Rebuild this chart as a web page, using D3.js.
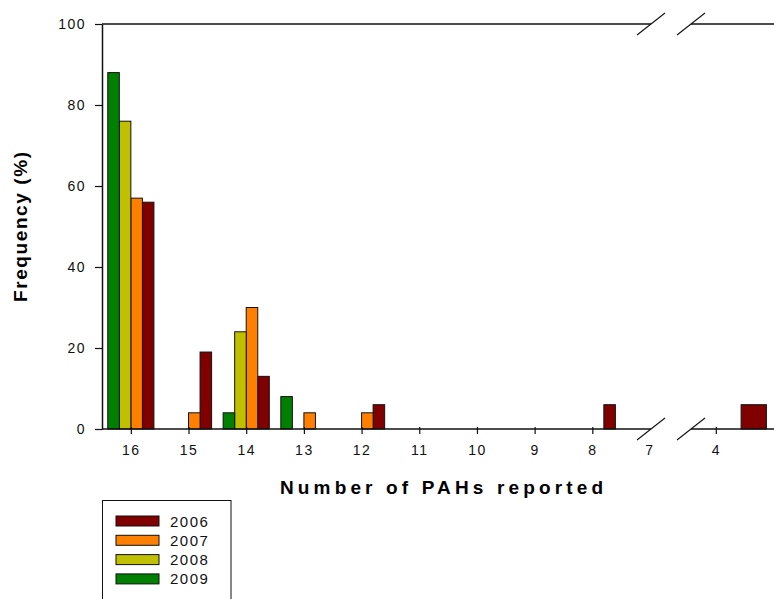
<!DOCTYPE html>
<html>
<meta charset="utf-8">
<script src="https://cdn.jsdelivr.net/npm/d3@7"></script>
<body style="margin:0;background:#fff">
<script>

// data
var categories = [16, 15, 14, 13, 12, 11, 10, 9, 8, 7, 4];
var years = ["2006", "2007", "2008", "2009"];
var v2006 = [56, 19, 13, 0, 6, 0, 0, 0, 6, 0, 6];
var v2007 = [57, 4, 30, 4, 4, 0, 0, 0, 0, 0, 0];
var v2008 = [76, 0, 24, 0, 0, 0, 0, 0, 0, 0, 0];
var v2009 = [88, 0, 4, 8, 0, 0, 0, 0, 0, 0, 0];
var yTicks = [0, 20, 40, 60, 80, 100];
var colors = {"2006": "#800000", "2007": "#ff8000", "2008": "#c0c000", "2009": "#008000"};

var values = {"2006": v2006, "2007": v2007, "2008": v2008, "2009": v2009};
var rows = [];
years.forEach(function(yr) {
  categories.forEach(function(c, i) {
    if (values[yr][i] > 0) rows.push({year: yr, cat: c, v: values[yr][i]});
  });
});

var W = 774, H = 599;
var FONT = "'Liberation Sans', Arial, sans-serif";
var svg = d3.select("body").append("svg")
  .attr("width", W).attr("height", H)
  .style("font-family", FONT);

var y = d3.scaleLinear().domain([0, 100]).range([429, 24]);
// broken x axis: two segments
var xL = d3.scaleLinear().domain([16.5, 7]).range([102, 650]);
var xR = d3.scaleLinear().domain([4.2, 3]).range([690.5, 842.3]);
var breakL = 651, breakR = 691;
function seg(c) { return c >= 7 ? xL : xR; }

// slot of each year inside a category (in category units)
var sub = d3.scaleBand().domain(["2009", "2008", "2007", "2006"]).range([-0.4, 0.4]);

svg.append("g").selectAll("rect")
  .data(rows)
  .enter().append("rect")
  .attr("x", function(d) { return seg(d.cat)(d.cat - sub(d.year)); })
  .attr("width", function(d) {
    var s = seg(d.cat);
    return s(d.cat - sub(d.year) - sub.bandwidth()) - s(d.cat - sub(d.year));
  })
  .attr("y", function(d) { return y(d.v); })
  .attr("height", function(d) { return y(0) - y(d.v); })
  .attr("fill", function(d) { return colors[d.year]; })
  .attr("stroke", "#111")
  .attr("stroke-width", 1);

// y axis
var yAx = d3.axisLeft(y).tickValues(yTicks).tickSize(7).tickPadding(9).tickSizeOuter(0);
var yG = svg.append("g").attr("transform", "translate(102,0)").call(yAx);
yG.select(".domain").attr("stroke", "#111").attr("stroke-width", 1.5);
yG.selectAll("line").attr("stroke", "#111").attr("stroke-width", 1.2);
yG.selectAll("text").style("font-size", "14px").style("letter-spacing", "1.5px")
  .attr("fill", "#111").attr("font-family", FONT);

// x axes, one per segment
var leftTicks = categories.filter(function(c) { return c > 7; });
var xAxL = d3.axisBottom(xL).tickValues(leftTicks).tickFormat(d3.format("d"))
  .tickSize(5).tickPadding(11).tickSizeOuter(0);
var xAxR = d3.axisBottom(xR).tickValues([4]).tickFormat(d3.format("d"))
  .tickSize(5).tickPadding(11).tickSizeOuter(0);
var gL = svg.append("g").attr("transform", "translate(0,429)").call(xAxL);
var gR = svg.append("g").attr("transform", "translate(0,429)").call(xAxR);
[gL, gR].forEach(function(g) {
  g.select(".domain").remove();
  g.selectAll("line").attr("y1", -2).attr("stroke", "#111").attr("stroke-width", 1.2);
  g.selectAll("text").style("font-size", "14px").style("letter-spacing", "1.5px")
    .attr("fill", "#111").attr("font-family", FONT);
});
// label 7 sits under the break, no tick
svg.append("text").attr("x", xL(7)).attr("y", 445).attr("dy", "0.71em")
  .attr("text-anchor", "middle").style("font-size", "14px").style("letter-spacing", "1.5px")
  .attr("fill", "#111").text("7");

// axis lines, top frame, and break marks
var lines = [
  [102, 429, breakL, 429], [breakR, 429, W, 429],
  [102, 24, breakL, 24], [breakR, 24, W, 24]
];
svg.append("g").selectAll("line").data(lines).enter().append("line")
  .attr("x1", function(d) { return d[0]; }).attr("y1", function(d) { return d[1]; })
  .attr("x2", function(d) { return d[2]; }).attr("y2", function(d) { return d[3]; })
  .attr("stroke", "#111").attr("stroke-width", 1.5);

var marks = [];
[429, 24].forEach(function(yy) {
  [breakL, breakR].forEach(function(bx) { marks.push([bx, yy]); });
});
svg.append("g").selectAll("line").data(marks).enter().append("line")
  .attr("x1", function(d) { return d[0] - 14; }).attr("y1", function(d) { return d[1] + 11; })
  .attr("x2", function(d) { return d[0] + 14; }).attr("y2", function(d) { return d[1] - 11; })
  .attr("stroke", "#111").attr("stroke-width", 1.1);

// titles
svg.append("text")
  .attr("transform", "translate(27,227) rotate(-90)")
  .attr("text-anchor", "middle")
  .attr("textLength", 150).attr("lengthAdjust", "spacing")
  .style("font-size", "19px").style("font-weight", "bold")
  .text("Frequency (%)");

svg.append("text")
  .attr("x", 441.5).attr("y", 494)
  .attr("text-anchor", "middle")
  .attr("textLength", 323).attr("lengthAdjust", "spacing")
  .style("font-size", "19px").style("font-weight", "bold")
  .text("Number of PAHs reported");

// legend
var lg = svg.append("g");
lg.append("rect").attr("x", 102.5).attr("y", 500.5).attr("width", 128.5).attr("height", 130)
  .attr("fill", "none").attr("stroke", "#111").attr("stroke-width", 1);
var items = lg.selectAll("g.item").data(years).enter().append("g")
  .attr("transform", function(d, i) { return "translate(116," + (516 + i * 19.3) + ")"; });
items.append("rect").attr("width", 43).attr("height", 10)
  .attr("fill", function(d) { return colors[d]; })
  .attr("stroke", "#111").attr("stroke-width", 1);
items.append("text").attr("x", 54).attr("y", 10.5)
  .style("font-size", "15px").style("letter-spacing", "1.5px").attr("fill", "#111")
  .text(function(d) { return d; });

</script>
</body>
</html>
